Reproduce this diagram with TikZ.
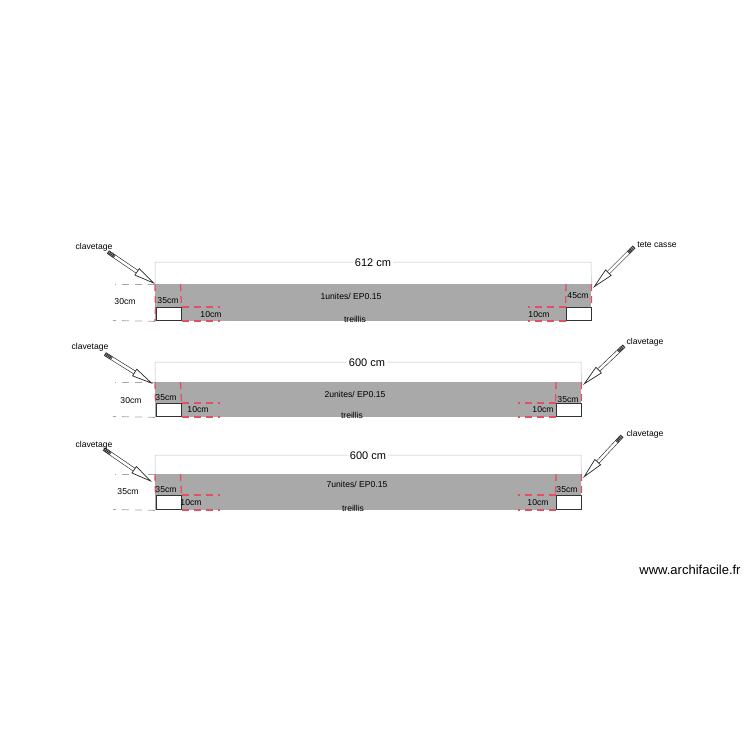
\documentclass[tikz,border=0pt]{standalone}
\usepackage{fontspec}
\setmainfont{Liberation Sans}
\usetikzlibrary{arrows.meta,calc}
\definecolor{bargray}{HTML}{A9A9A9}
\definecolor{dashred}{HTML}{E25062}
\tikzset{
	bar/.style={fill=bargray,inner sep=0pt,anchor=north west},
	hole/.style={draw=black!80,line width=1pt,fill=white,inner sep=0pt,anchor=north west,minimum width=25pt},
	lbl/.style={font=\fontsize{8.6}{9}\selectfont,inner sep=0pt,text=black,yshift=-.7pt},
	dimlbl/.style={font=\fontsize{11}{12}\selectfont,fill=white,inner sep=2pt,text=black,yshift=-1pt},
	dimline/.style={draw=black!25,line width=.5pt},
	reddash/.style={draw=dashred,line width=1.3pt,dash pattern=on 7pt off 5pt},
	redh/.style={draw=dashred,line width=1.1pt,dash pattern=on 7pt off 5pt},
	graydash/.style={draw=black!35,line width=.8pt,dash pattern=on 7pt off 6pt},
	clavarrow/.style={draw=black!85,double=white,double distance=2.6pt,line width=.6pt,
		-{Triangle[open,length=22pt,width=8.5pt,line width=.7pt,fill=white]}},
	clavtail/.style={draw=black!80,line width=3.6pt,dash pattern=on 1.2pt off .6pt}
}
\begin{document}
\begin{tikzpicture}[x=1pt,y=-1pt]
	\useasboundingbox (0,0) rectangle (750,750);
	% bars, holes, dimension lines
	\foreach \n/\w/\ytop/\h/\gap/\dimy/\dimtxt/\dimx in {
		1/436/284/37/23/262/612 cm/373,
		2/426/382/35/21/362/600 cm/367,
		3/426/474/36/21/455/600 cm/368}{
		\node [bar,minimum width=\w pt,minimum height=\h pt] (bar\n) at (155,\ytop) {};
		\node [hole,minimum height=\h pt-\gap pt-1pt] (holel\n) at (155.5,\ytop+\gap) {};
		\node [hole,minimum height=\h pt-\gap pt-1pt] (holer\n) at (155+\w-25.5,\ytop+\gap) {};
		\coordinate (diml\n) at (155,\dimy);
		\coordinate (dimr\n) at (155+\w,\dimy);
		\coordinate (inl\n) at (180.5,\ytop);
		\coordinate (inr\n) at (155+\w-25,\ytop);
		\draw [dimline] (bar\n.north west) -- (diml\n) -- (dimr\n) -- (bar\n.north east);
		\node [dimlbl] (dimtxt\n) at (\dimx,\dimy) {\dimtxt};
		% red marks
		\draw [reddash] (bar\n.north west) -- (holel\n.north west);
		\draw [reddash] (bar\n.north east) -- (holer\n.north east);
		\draw [redh] (holel\n.north east) -- +(38,0);
		\draw [redh] (holel\n.south east) -- +(38,0);
		\draw [redh] (holer\n.north west) -- +(-38,0);
		\draw [redh] (holer\n.south west) -- +(-38,0);
		% gray marks
		\draw [graydash] (bar\n.north west) -- +(-40,0);
		\draw [graydash] (bar\n.south west) -- +(-42,-1);
	}
	\draw [reddash] (holel1.north west) -- (bar1.south west);
	% inner red marks
	\foreach \n in {1,2,3}{
		\draw [reddash] (inl\n) -- (holel\n.north east);
		\draw [reddash] (inr\n) -- (holer\n.north west);
	}
	% arrows
	\foreach \n/\tx/\ty/\hx/\hy in {
		a/108/252/155/284,
		b/634/247/593/288,
		c/105/354/153/384,
		d/624/346/583/385,
		e/104/449/152/482,
		f/622/436/583/478}{
		\coordinate (tail\n) at (\tx,\ty);
		\coordinate (tip\n) at (\hx,\hy);
		\draw [clavarrow] (tail\n) -- (tip\n);
		\draw [clavtail] (tail\n) -- ($(tail\n)!8pt!(tip\n)$);
	}
	% texts of bar 1
	\node [lbl] (cla) at (94,247) {clavetage};
	\node [lbl] (clb) at (657,244) {tete casse};
	\node [lbl] (ha) at (125,301) {30cm};
	\node [lbl] (ba) at (168,300) {35cm};
	\node [lbl] (ca) at (211,314) {10cm};
	\node [lbl] (da) at (539,314) {10cm};
	\node [lbl] (ea) at (578,295) {45cm};
	\node [lbl] (ua) at (351,296) {1unites/ EP0.15};
	\node [lbl] (ta) at (355,319) {treillis};
	% texts of bar 2
	\node [lbl] (clc) at (90,347) {clavetage};
	\node [lbl] (cld) at (645,342) {clavetage};
	\node [lbl] (hb) at (131,400) {30cm};
	\node [lbl] (bb) at (166,397) {35cm};
	\node [lbl] (cb) at (198,409) {10cm};
	\node [lbl] (db) at (543,409) {10cm};
	\node [lbl] (eb) at (568,399) {35cm};
	\node [lbl] (ub) at (355,394) {2unites/ EP0.15};
	\node [lbl] (tb) at (352,415) {treillis};
	% texts of bar 3
	\node [lbl] (cle) at (94,445) {clavetage};
	\node [lbl] (clf) at (645,434) {clavetage};
	\node [lbl] (hc) at (128,491) {35cm};
	\node [lbl] (bc) at (166,489) {35cm};
	\node [lbl] (cc) at (191,502) {10cm};
	\node [lbl] (dc) at (538,502) {10cm};
	\node [lbl] (ec) at (567,489) {35cm};
	\node [lbl] (uc) at (357,484) {7unites/ EP0.15};
	\node [lbl] (tc) at (353,508) {treillis};
	\node [font=\fontsize{13}{14}\selectfont,inner sep=0pt] (site) at (690,569.5) {www.archifacile.fr};
\end{tikzpicture}
\end{document}
